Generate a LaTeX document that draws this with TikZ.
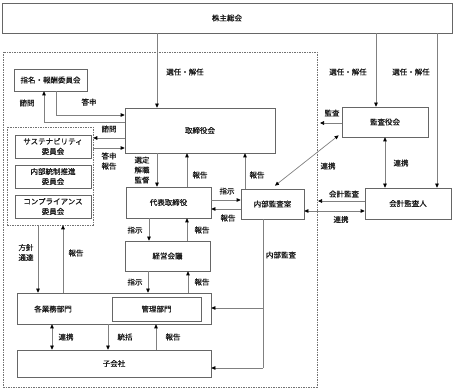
\documentclass[tikz,border=0pt]{standalone}
\usepackage{fontspec}
\setmainfont{Noto Sans CJK JP}[FakeBold=0.6,AutoFakeBold=0.6]
\usetikzlibrary{arrows.meta,calc}
\begin{document}
\begin{tikzpicture}[x=1pt,y=-1pt,
  font=\fontsize{7.5}{10}\selectfont,
  every node/.style={text=black!90},
  box/.style={draw=black!60,line width=0.7pt,fill=white,inner sep=0pt,align=center},
  dbox/.style={draw=black!55,line width=0.6pt,dash pattern=on 1.5pt off 1pt,inner sep=0pt},
  conn/.style={draw=black!50,line width=0.7pt},
  arr/.style={conn,-{Triangle[length=4pt,width=3.6pt,color=black]}},
  darr/.style={conn,{Triangle[length=4pt,width=3.6pt,color=black]}-{Triangle[length=4pt,width=3.6pt,color=black]}},
  lbl/.style={inner sep=0pt,align=center,font=\fontsize{7.5}{10}\selectfont}]
\useasboundingbox (0,0) rectangle (456,390);
% outer dashed region
\node[dbox,minimum width=314pt,minimum height=335pt] (outer) at (160,219.5) {};
% boxes
\node[box,minimum width=450pt,minimum height=30pt] (sh) at (227,18) {株主総会};
\node[box,minimum width=73pt,minimum height=22pt] (nom) at (50.5,80) {指名・報酬委員会};
\node[box,minimum width=150pt,minimum height=45pt] (bod) at (200,130.5) {取締役会};
\node[dbox,minimum width=86pt,minimum height=98pt] (comm) at (50,176) {};
\node[box,minimum width=76pt,minimum height=23pt] (s1) at (53,146.5) {サステナビリティ\\委員会};
\node[box,minimum width=76pt,minimum height=23pt] (s2) at (53,176.5) {内部統制推進\\委員会};
\node[box,minimum width=76pt,minimum height=23pt] (s3) at (53,206.5) {コンプライアンス\\委員会};
\node[box,minimum width=85pt,minimum height=31pt] (ceo) at (168.5,202.5) {代表取締役};
\node[box,minimum width=63pt,minimum height=30pt] (ia) at (272.5,204) {内部監査室};
\node[box,minimum width=86pt,minimum height=30pt] (kansa) at (385,122) {監査役会};
\node[box,minimum width=86pt,minimum height=31pt] (aud) at (408,203.5) {会計監査人};
\node[box,minimum width=85pt,minimum height=30pt] (mgmt) at (167.5,256) {経営会議};
\node[box,minimum width=194pt,minimum height=31pt] (biz) at (114,308.5) {};
\node[lbl] (bizt) at (53,309) {各業務部門};
\node[box,minimum width=89pt,minimum height=24pt] (kanri) at (156.5,309) {管理部門};
\node[box,minimum width=194pt,minimum height=27pt] (sub) at (114,363.5) {子会社};
% shareholders
\draw[arr] (157,0 |- sh.south) -- (157,0 |- bod.north);
\node[lbl] (l1) at (185,72) {選任・解任};
\draw[arr] (376,0 |- sh.south) -- (376,0 |- kansa.north);
\node[lbl] (l2) at (348,72) {選任・解任};
\draw[arr] (437,0 |- sh.south) -- (437,0 |- aud.north);
\node[lbl] (l3) at (411,72) {選任・解任};
% nomination committee
\draw[arr] (bod.west |- 0,122.5) -| (44,0 |- nom.south);
\node[lbl] (l4) at (27,103) {諮問};
\draw[arr] (56,0 |- nom.south) |- (bod.west |- 0,115);
\node[lbl] (l5) at (89,102) {答申};
% committees
\draw[arr] (bod.west |- 0,138) -- (comm.east |- 0,138);
\node[lbl] (l6) at (109,129) {諮問};
\draw[arr] (comm.east |- 0,148) -- (bod.west |- 0,148);
\node[lbl] (l7) at (109,161) {答申\\報告};
% board - ceo
\draw[arr] (157,0 |- bod.south) -- (157,0 |- ceo.north);
\node[lbl] (l8) at (142,170) {選定\\解職\\監督};
\draw[arr] (187,0 |- ceo.north) -- (187,0 |- bod.south);
\node[lbl] (l9) at (200,175) {報告};
\draw[arr] (245,0 |- ia.north) -- (245,0 |- bod.south);
\node[lbl] (l10) at (257,175) {報告};
% ceo - internal audit
\draw[arr] (ceo.east |- 0,200) -- (ia.west |- 0,200);
\node[lbl] (l11) at (227,191) {指示};
\draw[arr] (ia.west |- 0,209) -- (ceo.east |- 0,209);
\node[lbl] (l12) at (228,218) {報告};
% audit board
\coordinate (kfree) at (320,123);
\draw[arr] (kansa.west |- kfree) -- (kfree);
\node[lbl] (l13) at (332,113) {監査};
\draw[darr] ($(kansa.south west)+(-3,-2)$) -- ($(ia.north)+(2.5,-3)$);
\node[lbl] (l14) at (328,166) {連携};
\draw[darr] (385,0 |- kansa.south) -- (385,0 |- aud.north);
\node[lbl] (l15) at (401,163) {連携};
\coordinate (afree) at (318,201);
\draw[arr] (aud.west |- afree) -- (afree);
\node[lbl] (l16) at (344,194) {会計監査};
\draw[darr] (ia.east |- 0,211) -- (aud.west |- 0,211);
\node[lbl] (l17) at (341,219.5) {連携};
% internal audit lines
\coordinate (iab) at (263,368);
\coordinate (iam) at (263,308);
\draw[conn] (263,0 |- ia.south) -- (iab);
\draw[arr] (iab) -- (sub.east |- iab);
\draw[arr] (iam) -- (biz.east |- iam);
\node[lbl] (l18) at (281,255) {内部監査};
% ceo - mgmt
\draw[arr] (149,0 |- ceo.south) -- (149,0 |- mgmt.north);
\node[lbl] (l19) at (135,230) {指示};
\draw[arr] (187,0 |- mgmt.north) -- (187,0 |- ceo.south);
\node[lbl] (l20) at (202,230) {報告};
\draw[arr] (148,0 |- mgmt.south) -- (148,0 |- biz.north);
\node[lbl] (l21) at (135,282) {指示};
\draw[arr] (188,0 |- biz.north) -- (188,0 |- mgmt.south);
\node[lbl] (l22) at (202,282) {報告};
% committees - business
\draw[arr] (38,0 |- comm.south) -- (38,0 |- biz.north);
\node[lbl] (l23) at (26,252.5) {方針\\通達};
\draw[arr] (63,0 |- biz.north) -- (63,0 |- comm.south);
\node[lbl] (l24) at (76,253) {報告};
% business - subsidiaries
\draw[darr] (52,0 |- biz.south) -- (52,0 |- sub.north);
\node[lbl] (l25) at (66,337) {連携};
\draw[arr] (108,0 |- biz.south) -- (108,0 |- sub.north);
\node[lbl] (l26) at (125,337) {統括};
\draw[arr] (156,0 |- sub.north) -- (156,0 |- biz.south);
\node[lbl] (l27) at (173,337) {報告};
\end{tikzpicture}
\end{document}
